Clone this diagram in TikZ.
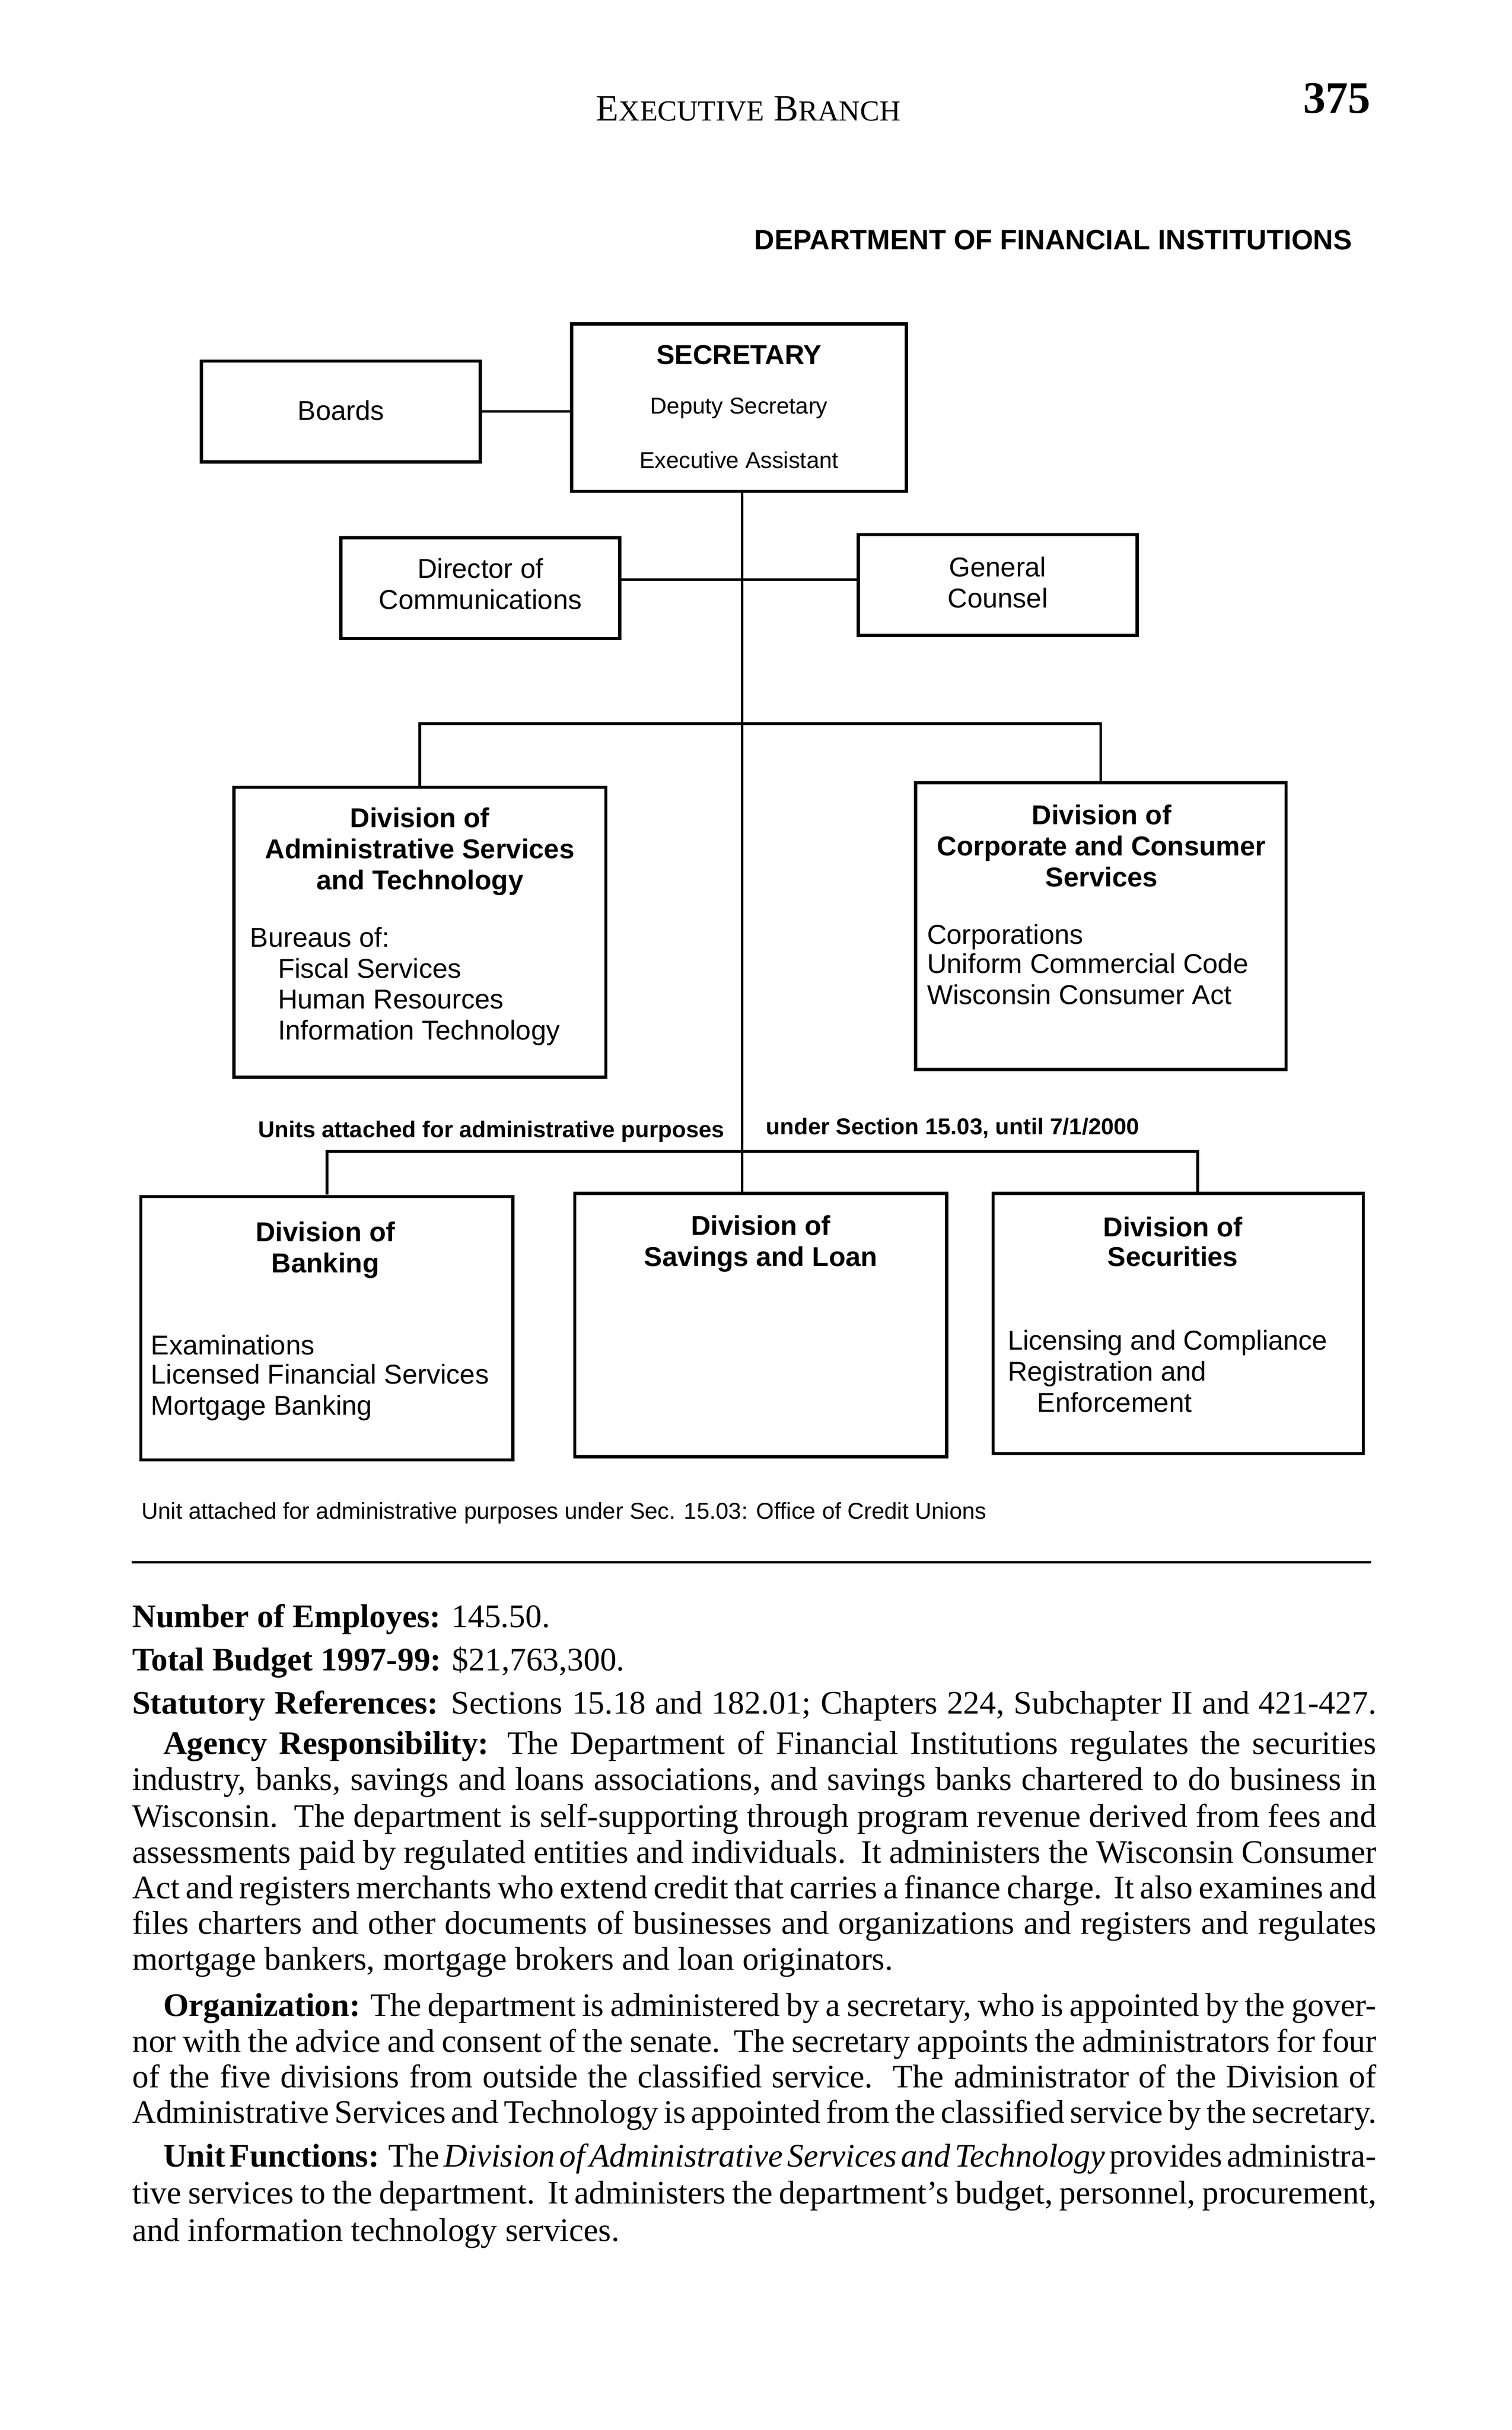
\documentclass[tikz,border=0pt]{standalone}
\usepackage{fontspec}
\setmainfont{Liberation Serif}
\newfontfamily\hvfam{Liberation Sans}
\newcommand\dfA{\hvfam\fontsize{8.8}{10}\selectfont}
\newcommand\dfB{\hvfam\bfseries\fontsize{8.8}{10}\selectfont}
\newcommand\dfS{\hvfam\fontsize{7.4}{9}\selectfont}
\newcommand\dfSB{\hvfam\bfseries\fontsize{7.4}{9}\selectfont}
\newcommand\dfBody{\fontsize{10.6}{11.6}\selectfont}
\newcommand\fullline[1]{\makebox[401.5pt][s]{\spaceskip=.25em plus .6em minus .15em\relax #1}}
\newcommand\indline[1]{\makebox[391.5pt][s]{\spaceskip=.25em plus .6em minus .15em\relax #1}}
\begin{document}
\begin{tikzpicture}[x=0.5pt,y=-0.5pt,
  bx/.style={draw, line width=1pt, inner sep=0pt, fill=none},
  ln/.style={line width=0.85pt},
  tc/.style={inner sep=0pt, anchor=base},
  tl/.style={inner sep=0pt, anchor=base west},
  tr/.style={inner sep=0pt, anchor=base east}]
\fill[white] (0,0) rectangle (960,1542.86);
\useasboundingbox (0,0) rectangle (960,1542.86);

\begin{scope}[scale=0.984, transform shape]
% header
\node[tc] (hdr) at (483,78) {\fontsize{12}{14}\selectfont E{\fontsize{9.4}{14}\selectfont XECUTIVE} B{\fontsize{9.4}{14}\selectfont RANCH}};
\node[tr] (pgno) at (885,73) {\fontsize{14.5}{16}\selectfont\bfseries 375};
\node[tr] (dept) at (873,161) {\hvfam\bfseries\fontsize{9.0}{10}\selectfont DEPARTMENT OF FINANCIAL INSTITUTIONS};

% boxes
\node[bx, minimum width=90pt, minimum height=32.5pt] (boards) at (220,265.5) {};
\node[bx, minimum width=108pt, minimum height=54pt] (sec) at (477,263) {};
\node[bx, minimum width=90pt, minimum height=32.5pt] (dir) at (310,379.5) {};
\node[bx, minimum width=90pt, minimum height=32.5pt] (gc) at (644,377.5) {};
\node[bx, minimum width=120pt, minimum height=93.5pt] (admin) at (271,601.5) {};
\node[bx, minimum width=119.5pt, minimum height=92.5pt] (corp) at (710.5,597.5) {};
\node[bx, minimum width=120pt, minimum height=85pt] (bank) at (211,857) {};
\node[bx, minimum width=120pt, minimum height=85pt] (sav) at (491,855) {};
\node[bx, minimum width=119.5pt, minimum height=84pt] (secu) at (760.5,854) {};

% box texts
\node[tc] (secT) at (477,235) {\dfB SECRETARY};
\node[tc] (secD) at (477,267) {\dfS Deputy Secretary};
\node[tc] (secE) at (477,302) {\dfS Executive Assistant};
\node[tc] (boardsT) at (220,271) {\dfA Boards};
\node[tc] (dirT1) at (310,373) {\dfA Director of};
\node[tc] (dirT2) at (310,393) {\dfA Communications};
\node[tc] (gcT1) at (644,372) {\dfA General};
\node[tc] (gcT2) at (644,392) {\dfA Counsel};

\node[tc] (adT1) at (271,534) {\dfB Division of};
\node[tc] (adT2) at (271,554) {\dfB Administrative Services};
\node[tc] (adT3) at (271,574) {\dfB and Technology};
\node[tl] (adL1) at (161,611) {\dfA Bureaus of:};
\node[tl] (adL2) at (179,631) {\dfA Fiscal Services};
\node[tl] (adL3) at (179,651) {\dfA Human Resources};
\node[tl] (adL4) at (179,671) {\dfA Information Technology};

\node[tc] (coT1) at (711,532) {\dfB Division of};
\node[tc] (coT2) at (711,552) {\dfB Corporate and Consumer};
\node[tc] (coT3) at (711,572) {\dfB Services};
\node[tl] (coL1) at (598,609) {\dfA Corporations};
\node[tl] (coL2) at (598,628) {\dfA Uniform Commercial Code};
\node[tl] (coL3) at (598,648) {\dfA Wisconsin Consumer Act};

\node[tc] (baT1) at (210,801) {\dfB Division of};
\node[tc] (baT2) at (210,821) {\dfB Banking};
\node[tl] (baL1) at (97,874) {\dfA Examinations};
\node[tl] (baL2) at (97,893) {\dfA Licensed Financial Services};
\node[tl] (baL3) at (97,913) {\dfA Mortgage Banking};

\node[tc] (saT1) at (491,797) {\dfB Division of};
\node[tc] (saT2) at (491,817) {\dfB Savings and Loan};

\node[tc] (seT1) at (757,798) {\dfB Division of};
\node[tc] (seT2) at (757,817) {\dfB Securities};
\node[tl] (seL1) at (650,871) {\dfA Licensing and Compliance};
\node[tl] (seL2) at (650,891) {\dfA Registration and};
\node[tl] (seL3) at (669,911) {\dfA Enforcement};

\node[tr] (unitsA) at (468,734) {\dfSB Units attached for administrative purposes};
\node[tl] (unitsB) at (494,732) {\dfSB under Section 15.03, until 7/1/2000};
\node[tl] (foot) at (91,980) {\dfS Unit attached for administrative purposes under Sec. 15.03: Office of Credit Unions};

% connectors
\coordinate (tX) at (479,0);
\coordinate (hc) at (0,374);
\coordinate (bus1) at (0,467);
\coordinate (bus2) at (0,743);
\coordinate (dR) at (773,0);
\draw[ln] (sec.south -| tX) -- (sav.north -| tX);
\draw[ln] (boards.east) -- (boards.east -| sec.west);
\draw[ln] (dir.east |- hc) -- (gc.west |- hc);
\draw[ln] (admin.north) |- (bus1 -| corp.north) -- (corp.north);
\draw[ln] (bank.north) |- (bus2 -| dR) -- (dR |- secu.north);

% rule
\draw[line width=0.9pt] (85,1008) -- (885,1008);

% body text
\node[tl] (b1) at (85,1050) {\dfBody\textbf{Number of Employes:} 145.50.};
\node[tl] (b2) at (85,1078) {\dfBody\textbf{Total Budget 1997-99:} \$21,763,300.};
\node[tl] (b3) at (85,1106) {\dfBody\fullline{\textbf{Statutory References:} Sections 15.18 and 182.01; Chapters 224, Subchapter II and 421-427.}};
\node[tl] (a1) at (105,1132) {\dfBody\indline{\textbf{Agency Responsibility:} The Department of Financial Institutions regulates the securities}};
\node[tl] (a2) at (85,1155) {\dfBody\fullline{industry, banks, savings and loans associations, and savings banks chartered to do business in}};
\node[tl] (a3) at (85,1179) {\dfBody\fullline{Wisconsin.\ \ The department is self-supporting through program revenue derived from fees and}};
\node[tl] (a4) at (85,1202) {\dfBody\fullline{assessments paid by regulated entities and individuals.\ \ It administers the Wisconsin Consumer}};
\node[tl] (a5) at (85,1225) {\dfBody\fullline{Act and registers merchants who extend credit that carries a finance charge.\ \ It also examines and}};
\node[tl] (a6) at (85,1248) {\dfBody\fullline{files charters and other documents of businesses and organizations and registers and regulates}};
\node[tl] (a7) at (85,1271) {\dfBody mortgage bankers, mortgage brokers and loan originators.};
\node[tl] (o1) at (105,1301) {\dfBody\indline{\textbf{Organization:} The department is administered by a secretary, who is appointed by the gover-}};
\node[tl] (o2) at (85,1324) {\dfBody\fullline{nor with the advice and consent of the senate.\ \ The secretary appoints the administrators for four}};
\node[tl] (o3) at (85,1347) {\dfBody\fullline{of the five divisions from outside the classified service.\ \ The administrator of the Division of}};
\node[tl] (o4) at (85,1370) {\dfBody\fullline{Administrative Services and Technology is appointed from the classified service by the secretary.}};
\node[tl] (u1) at (105,1398) {\dfBody\indline{\textbf{Unit Functions:} The \textit{Division of Administrative Services and Technology} provides administra-}};
\node[tl] (u2) at (85,1422) {\dfBody\fullline{tive services to the department.\ \ It administers the department’s budget, personnel, procurement,}};
\node[tl] (u3) at (85,1446) {\dfBody and information technology services.};
\end{scope}
\end{tikzpicture}
\end{document}
